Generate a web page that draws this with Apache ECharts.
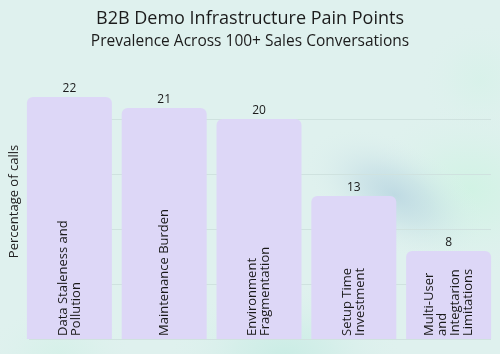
<!DOCTYPE html>
<html>
<head>
<meta charset="utf-8">
<script src="https://cdn.jsdelivr.net/npm/echarts@6/dist/echarts.min.js"></script>
<style>
  html, body { margin: 0; padding: 0; background: #dff1ee; }
  #grafico { width: 500px; height: 354px; }
</style>
</head>
<body>
<div id="grafico"></div>
<script>
// datos
const categories = [
  "Data Staleness and Pollution",
  "Maintenance Burden",
  "Environment Fragmentation",
  "Setup Time Investment",
  "Multi-User and Integtarion Limitations"
];
const barLabels = [
  "Data Staleness and\nPollution",
  "Maintenance Burden",
  "Environment\nFragmentation",
  "Setup Time\nInvestment",
  "Multi-User\nand\nIntegtarion\nLimitations"
];
const values = [22, 21, 20, 13, 8];

const FONT = "Open Sans";
const gridLine = "#cfe2df";

// manchas de fondo
function blob(x, y, r, color, sx, rot) {
  return {
    type: "circle",
    z: -10,
    silent: true,
    x: x, y: y,
    scaleX: sx || 1,
    rotation: rot || 0,
    shape: { cx: 0, cy: 0, r: r },
    style: {
      fill: {
        type: "radial", x: 0.5, y: 0.5, r: 0.5,
        colorStops: [
          { offset: 0, color: color },
          { offset: 0.4, color: color.replace(/[\d.]+\)$/, m => (parseFloat(m) * 0.5) + ")") },
          { offset: 1, color: "rgba(223,241,238,0)" }
        ]
      }
    }
  };
}

let options = {
  backgroundColor: "#dff1ee",
  textStyle: { fontFamily: FONT },
  graphic: [
    blob(470, 190, 90, "rgba(206,243,226,0.8)", 1.2, 0),
    blob(480, 80, 60, "rgba(210,242,230,0.5)", 1, 0),
    blob(395, 195, 55, "rgba(188,216,226,0.9)", 1.8, -0.5),
    blob(285, 355, 75, "rgba(200,236,228,0.9)", 1.6, 0),
    blob(60, 354, 50, "rgba(205,240,228,0.5)", 1.5, 0)
  ],
  title: {
    text: "B2B Demo Infrastructure Pain Points",
    subtext: "Prevalence Across 100+ Sales Conversations",
    left: "center",
    top: 5,
    itemGap: 6,
    textStyle: { fontFamily: FONT, fontSize: 18, fontWeight: "normal", color: "#1c1c1c" },
    subtextStyle: { fontFamily: FONT, fontSize: 15.5, color: "#1c1c1c" }
  },
  grid: [
    { left: 27, right: 9, top: 64, bottom: 15 },
    { left: 22, right: 4, top: 64, bottom: 15 }
  ],
  xAxis: [
    { gridIndex: 0, type: "category", data: categories, show: false },
    { gridIndex: 1, type: "category", data: categories, show: false }
  ],
  yAxis: [
    {
      gridIndex: 0, type: "value", min: 0, max: 25, interval: 5,
      name: "Percentage of calls",
      nameLocation: "middle",
      nameGap: 8,
      nameTextStyle: { fontFamily: FONT, fontSize: 13, color: "#222" },
      axisLine: { show: false }, axisTick: { show: false }, axisLabel: { show: false },
      splitLine: {
        lineStyle: { color: [gridLine, gridLine, gridLine, gridLine, gridLine, "rgba(0,0,0,0)"], width: 1 }
      }
    },
    {
      gridIndex: 1, type: "value", min: 0, max: 25, interval: 5,
      show: false, splitLine: { show: false }
    }
  ],
  series: [
    {
      type: "bar",
      xAxisIndex: 1, yAxisIndex: 1,
      data: values,
      barWidth: 85,
      itemStyle: { color: "#ddd7f7", borderRadius: [6, 6, 0, 0] },
      label: {
        show: true,
        position: "insideBottom",
        rotate: 90,
        align: "left",
        verticalAlign: "middle",
        distance: 3,
        fontFamily: FONT,
        fontSize: 13,
        lineHeight: 13,
        color: "#1a1a1a",
        formatter: p => barLabels[p.dataIndex]
      },
      z: 3
    },
    {
      type: "bar",
      xAxisIndex: 1, yAxisIndex: 1,
      data: values,
      barWidth: 85,
      barGap: "-100%",
      itemStyle: { color: "rgba(0,0,0,0)" },
      label: {
        show: true,
        position: "top",
        distance: 2,
        fontFamily: FONT,
        fontSize: 12,
        color: "#1a1a1a"
      },
      z: 4
    }
  ]
};

let chart = echarts.init(document.getElementById("grafico"));
chart.setOption(options);
</script>
</body>
</html>
